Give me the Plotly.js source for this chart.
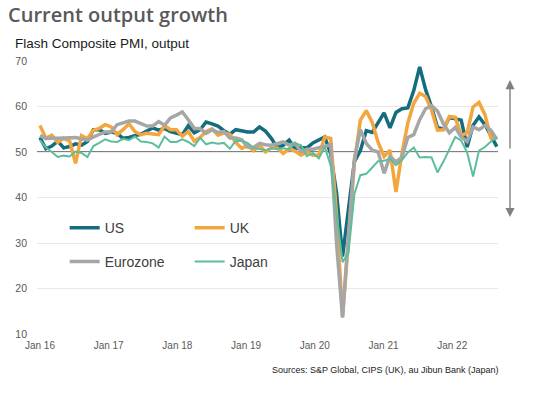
<!DOCTYPE html>
<html>
<head>
<meta charset="utf-8">
<script src="https://cdn.plot.ly/plotly-3.0.1.min.js"></script>
<style>html,body{margin:0;padding:0;background:#fff;}#chart{width:535px;height:393px;}</style>
</head>
<body>
<div id="chart"></div>
<script>
// Monthly flash composite PMI output, Jan 2016 - Jun 2022
const us = [53.2,50.7,51.3,52.4,50.9,51.2,51.8,51.5,52.3,54.9,54.9,54.1,
  54.4,54.1,53.0,53.2,53.6,53.9,54.6,55.3,54.8,55.2,54.5,54.1,
  53.8,55.8,54.2,54.9,56.6,56.2,55.7,54.7,53.9,54.9,54.7,54.4,
  54.4,55.5,54.6,53.0,50.9,51.5,52.6,50.7,51.0,50.9,52.0,52.7,
  53.3,49.6,40.9,27.0,37.0,47.9,50.3,54.7,54.3,56.3,58.6,55.3,
  58.7,59.5,59.7,63.5,68.7,63.7,59.9,55.4,55.0,57.6,57.2,57.0,
  51.1,55.9,57.7,56.0,53.6,51.2];
const uk = [55.8,53.0,53.7,52.1,53.0,52.4,47.5,53.6,52.9,54.8,55.2,56.0,
  55.5,53.8,54.9,56.2,54.5,53.8,54.1,54.0,53.8,55.8,54.9,54.9,
  53.5,54.5,52.4,53.2,54.5,55.1,53.7,54.2,53.9,52.1,50.8,51.4,
  50.3,51.5,50.0,50.9,50.9,49.7,50.7,50.2,49.3,50.0,49.3,49.3,
  53.3,53.0,36.0,13.8,30.0,47.7,57.0,59.1,56.5,52.1,49.0,50.4,
  41.2,49.6,56.4,60.7,62.9,62.2,59.2,54.8,54.9,57.8,57.6,53.6,
  54.2,59.9,60.9,58.2,53.1,53.1];
const eurozone = [53.6,53.0,53.1,53.0,53.1,53.1,53.2,52.9,52.6,53.3,53.9,54.4,
  54.4,56.0,56.4,56.8,56.8,56.3,55.7,55.7,56.7,55.9,57.5,58.1,
  58.8,57.1,55.2,55.1,54.1,54.9,54.3,54.5,53.1,53.1,52.7,51.1,
  51.0,51.9,51.6,51.5,51.8,52.2,51.5,51.9,50.1,50.6,50.6,50.9,
  51.3,51.6,29.7,13.6,31.9,48.5,54.9,51.9,50.4,50.0,45.3,49.1,
  47.8,48.8,53.2,53.8,57.1,59.5,60.2,59.0,56.2,54.2,55.4,53.3,
  52.3,55.5,54.9,55.8,54.8,52.8];
const japan = [52.6,51.0,50.0,48.9,49.2,49.0,50.1,49.8,48.9,51.3,52.0,52.8,
  52.3,52.2,52.9,52.6,53.4,52.3,52.2,51.9,51.0,53.4,52.2,52.2,
  52.8,52.2,51.3,53.1,51.7,52.1,51.8,52.0,50.7,52.5,52.4,52.0,
  50.9,50.7,50.4,50.8,50.7,50.8,50.6,51.9,51.5,49.1,49.8,48.6,
  51.1,47.0,36.2,25.8,27.8,40.8,44.9,45.2,46.6,48.0,48.1,48.5,
  47.1,48.2,49.9,51.0,48.8,48.9,48.8,45.5,47.9,50.7,53.3,52.5,
  49.9,44.6,50.3,51.1,52.3,53.2];
const seriesNames = ["US","UK","Eurozone","Japan"];
const tickLabels = ["Jan 16","Jan 17","Jan 18","Jan 19","Jan 20","Jan 21","Jan 22"];
const yTicks = [10,20,30,40,50,60,70];

const colors = ["#136C80","#F4A63E","#A6A6A6","#5DBE9C"];
const widths = [3.5,3.5,3.5,2];
const legends = ["legend","legend","legend2","legend2"];
const allSeries = [us, uk, eurozone, japan];
const xIdx = us.map((_, i) => i);

const traces = allSeries.map((vals, k) => ({
  type: "scatter", mode: "lines", x: xIdx, y: vals, name: seriesNames[k],
  line: {color: colors[k], width: widths[k]}, legend: legends[k], hoverinfo: "skip"
}));

const tickStep = 11.58;
const small = "Liberation Sans, Arial, sans-serif";

const legendCommon = {
  orientation: "h", xanchor: "left", yanchor: "middle", bgcolor: "rgba(0,0,0,0)",
  font: {family: "Liberation Sans, Arial, sans-serif", size: 14, color: "#404040"},
  entrywidth: 80, entrywidthmode: "pixels", itemwidth: 30, tracegroupgap: 0
};

const layout = {
  width: 535, height: 393,
  margin: {l: 37, r: 37, t: 61, b: 59},
  paper_bgcolor: "#fff", plot_bgcolor: "#fff",
  showlegend: true,
  title: {text: "Current output growth", x: 8/535, xref: "container", xanchor: "left",
    y: 1 - 15/393, yref: "container", yanchor: "middle",
    font: {family: "Open Sans, sans-serif", size: 20, color: "#595959", weight: 600}},
  xaxis: {range: [-0.5, 77.2], tickvals: tickLabels.map((_, i) => i * tickStep), ticktext: tickLabels,
    showgrid: false, zeroline: false, showline: false, ticks: "", ticklabelstandoff: 4,
    tickfont: {family: small, size: 10, color: "#595959"}, fixedrange: true},
  yaxis: {range: [10, 70], tickvals: yTicks, showgrid: true, gridcolor: "#e9e9e9", gridwidth: 1,
    zeroline: false, showline: false, ticks: "", ticklabelstandoff: 9,
    tickfont: {family: small, size: 10.5, color: "#595959"}, fixedrange: true},
  legend: Object.assign({x: 0.06, y: 0.388}, legendCommon),
  legend2: Object.assign({x: 0.06, y: 0.264}, legendCommon),
  shapes: [{type: "line", xref: "paper", x0: 0, x1: 1, yref: "y", y0: 50, y1: 50,
    line: {color: "#000", width: 1}, layer: "below"}],
  annotations: [
    {text: "Flash Composite PMI, output", xref: "paper", yref: "paper", x: -24/461, y: 1 + 18/273,
      xanchor: "left", yanchor: "middle", showarrow: false,
      font: {family: "Liberation Sans, Arial, sans-serif", size: 13.5, color: "#1a1a1a"}},
    {text: "Sources: S&P Global, CIPS (UK), au Jibun Bank (Japan)", xref: "paper", yref: "paper",
      x: 1.004, y: -36/273, xanchor: "right", yanchor: "middle", showarrow: false,
      font: {family: small, size: 9, color: "#1a1a1a"}},
    {text: "", xref: "paper", yref: "y", x: 473/461, y: 65.8, ax: 0, ay: 70,
      showarrow: true, arrowhead: 2, arrowsize: 1.3, arrowwidth: 1.4, arrowcolor: "#808080", standoff: 0},
    {text: "", xref: "paper", yref: "y", x: 473/461, y: 35.7, ax: 0, ay: -59,
      showarrow: true, arrowhead: 2, arrowsize: 1.3, arrowwidth: 1.4, arrowcolor: "#808080", standoff: 0}
  ]
};

Plotly.newPlot("chart", traces, layout, {staticPlot: true, displayModeBar: false});
</script>
</body>
</html>
